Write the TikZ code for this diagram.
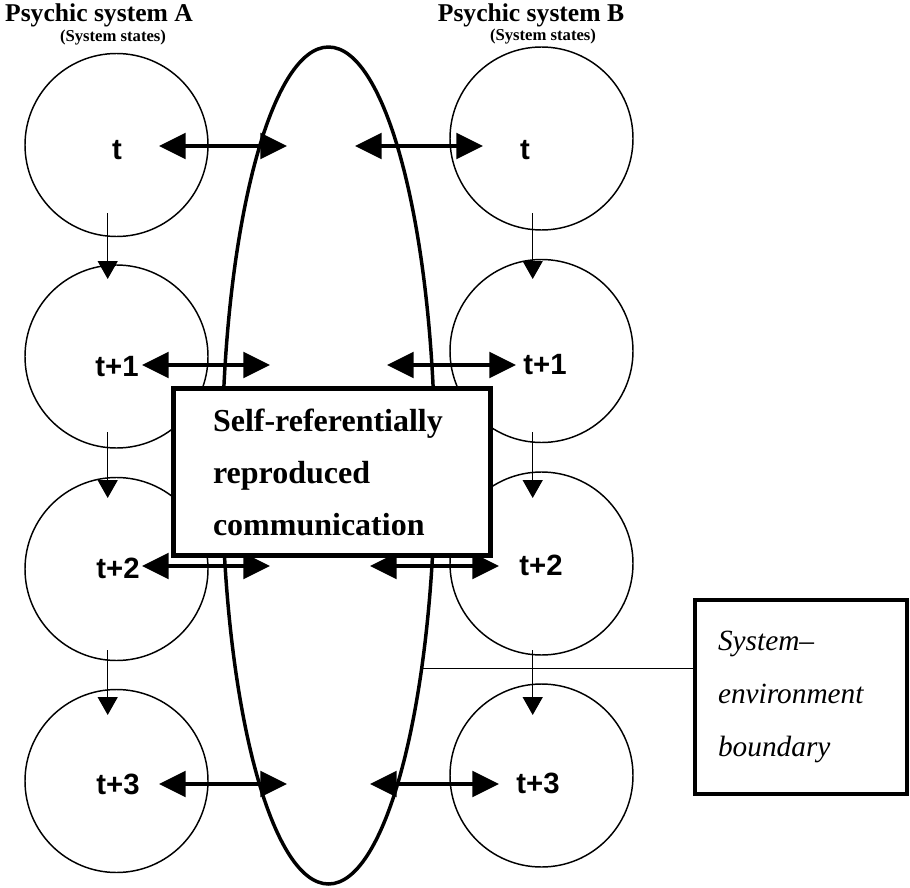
\documentclass[tikz,border=0pt]{standalone}
\usepackage{fontspec}
\setmainfont{Liberation Serif}
\setsansfont{Liberation Sans}
\usetikzlibrary{arrows.meta,shapes.geometric}
\begin{document}
\begin{tikzpicture}[x=0.75pt,y=-0.75pt,
  state/.style={circle,draw,line width=1.1pt,minimum size=137.25pt,inner sep=0pt},
  tlabel/.style={font=\sffamily\bfseries\fontsize{22}{22}\selectfont,inner sep=0pt},
  exchange/.style={line width=3.2pt,{Triangle[length=20pt,width=19pt]}-{Triangle[length=20pt,width=19pt]}},
  succession/.style={line width=1.1pt,-{Triangle[length=13.5pt,width=15pt]}},
  heading/.style={font=\bfseries\fontsize{19.2}{22}\selectfont,anchor=base,inner sep=0pt},
  subheading/.style={font=\bfseries\fontsize{12.5}{15}\selectfont,anchor=base,inner sep=0pt}]

\useasboundingbox (0,0) rectangle (910,888);

% headings
\node[heading] (headA) at (99,22) {Psychic system A};
\node[subheading] (subA) at (113,42) {(System states)};
\node[heading] (headB) at (531,22) {Psychic system B};
\node[subheading] (subB) at (543,41) {(System states)};

% states of system A
\node[state] (a0) at (116.5,145) {};
\node[state] (a1) at (116.5,356.5) {};
\node[state] (a2) at (116.5,569) {};
\node[state] (a3) at (116.5,781) {};
% states of system B
\node[state] (b0) at (541.5,138.5) {};
\node[state] (b1) at (541.5,351) {};
\node[state] (b2) at (541.5,563.5) {};
\node[state] (b3) at (541.5,775.5) {};

% system/environment boundary
\node[ellipse,draw,line width=2.6pt,minimum width=159.75pt,minimum height=627.75pt,inner sep=0pt]
  (boundary) at (328.5,465.5) {};

% state labels
\node[tlabel] (la0) at (117,150) {t};
\node[tlabel] (la1) at (117,367) {t+1};
\node[tlabel] (la2) at (118,568) {t+2};
\node[tlabel] (la3) at (118,784) {t+3};
\node[tlabel] (lb0) at (525,150) {t};
\node[tlabel] (lb1) at (545,365) {t+1};
\node[tlabel] (lb2) at (541,565) {t+2};
\node[tlabel] (lb3) at (538,783) {t+3};

% succession of states
\foreach \s/\e [count=\i from 0] in {213/279,432/498,650/715}{
  \coordinate (sa\i) at (107.7,\s);
  \coordinate (ea\i) at (107.7,\e);
  \coordinate (sb\i) at (532.7,\s);
  \coordinate (eb\i) at (532.7,\e);
  \draw[succession] (sa\i) -- (ea\i);
  \draw[succession] (sb\i) -- (eb\i);
}

% exchanges across the boundary
\coordinate (xa0) at (159,146);  \coordinate (ya0) at (287,146);
\coordinate (xb0) at (355,146);  \coordinate (yb0) at (483,146);
\coordinate (xa1) at (142,365);  \coordinate (ya1) at (270,365);
\coordinate (xb1) at (387,365);  \coordinate (yb1) at (516,365);
\coordinate (xa2) at (142,566);  \coordinate (ya2) at (270,566);
\coordinate (xb2) at (370,566);  \coordinate (yb2) at (499,566);
\coordinate (xa3) at (159,784);  \coordinate (ya3) at (287,784);
\coordinate (xb3) at (370,784);  \coordinate (yb3) at (499,784);
\foreach \i in {0,1,2,3}{
  \draw[exchange] (xa\i) -- (ya\i);
  \draw[exchange] (xb\i) -- (yb\i);
}

% communication box
\node[draw,fill=white,line width=3.75pt,minimum width=237.75pt,minimum height=125.25pt,
  inner xsep=29.6pt,inner ysep=0pt,text width=178.5pt,align=left,
  font=\bfseries\fontsize{24}{39}\selectfont] (comm) at (332,472)
  {Self-referentially\\ reproduced\\ communication};

% boundary legend
\node[draw,line width=3pt,minimum width=159pt,minimum height=145.5pt,
  inner xsep=17.25pt,text width=124.5pt,align=left,
  font=\itshape\fontsize{22}{40}\selectfont] (legend) at (801,697)
  {System–\\ environment\\ boundary};
\draw[line width=0.9pt] (boundary.-65.9) -- (boundary.-65.9 -| legend.west);

\end{tikzpicture}
\end{document}
